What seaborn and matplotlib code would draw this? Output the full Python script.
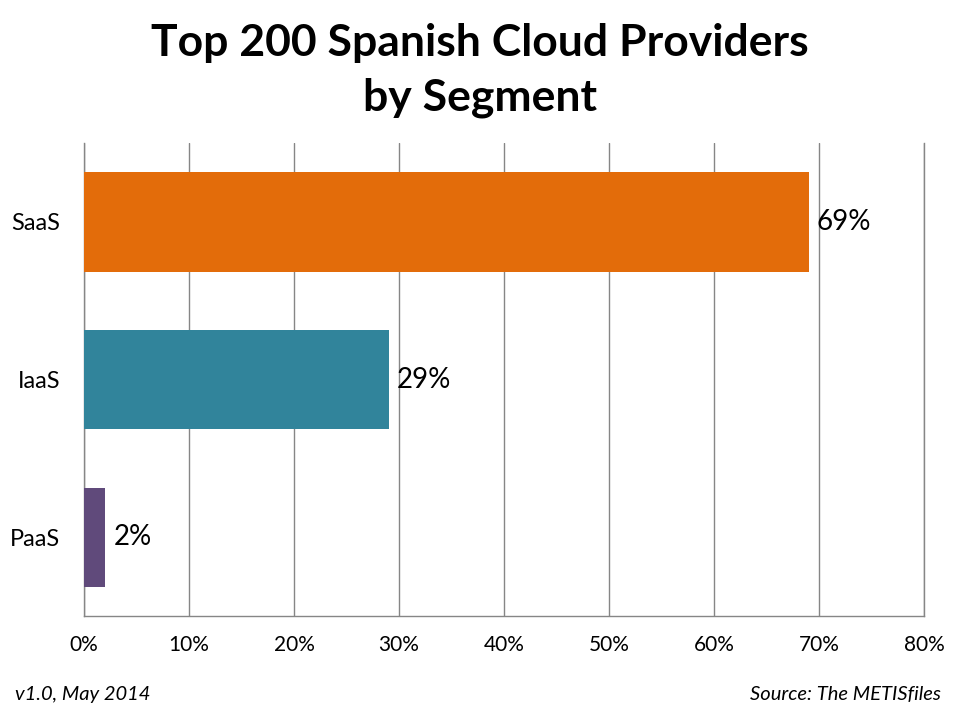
from matplotlib import pyplot as plt
import pandas as pd
import seaborn as sns

segments = ['SaaS', 'IaaS', 'PaaS']
shares = [69, 29, 2]
bar_colors = ['#E36C0A', '#31849B', '#604A7B']
x_ticks = [0, 10, 20, 30, 40, 50, 60, 70, 80]

df = pd.DataFrame({'Segment': segments, 'Share': shares})

sns.set_style("white")
plt.rcParams['font.family'] = ['Lato', 'DejaVu Sans']
plt.rcParams['text.color'] = 'black'
plt.rcParams['xtick.color'] = 'black'
plt.rcParams['ytick.color'] = 'black'

fig = plt.figure(figsize=(9.6, 7.2), dpi=100)
ax = fig.add_axes([0.0875, 0.1444, 0.875, 0.657])

sns.barplot(data=df, x='Share', y='Segment', hue='Segment', palette=bar_colors,
            orient='h', width=0.63, saturation=1, linewidth=0, legend=False,
            ax=ax, zorder=3)

ax.set_xlim(0, 80)
ax.set_xticks(x_ticks)
ax.set_xticklabels([f'{t}%' for t in x_ticks], fontsize=15)
ax.tick_params(axis='x', pad=14, length=0)
ax.tick_params(axis='y', pad=17, length=0, labelsize=17)
ax.xaxis.grid(True, color='#868686', linewidth=1)
ax.set_axisbelow(True)
ax.set_xlabel('')
ax.set_ylabel('')
for side in ['left', 'bottom', 'right']:
    ax.spines[side].set_color('#868686')
    ax.spines[side].set_linewidth(1)
ax.spines['top'].set_visible(False)

for i, v in enumerate(shares):
    ax.text(v + 0.8, i, f'{v}%', va='center', ha='left', fontsize=20)

fig.text(0.5, 0.968, 'Top 200 Spanish Cloud Providers\nby Segment', ha='center', va='top',
         fontsize=32, fontweight='bold', linespacing=1.45)
fig.text(0.016, 0.036, 'v1.0, May 2014', ha='left', va='center', fontsize=14.5, style='italic')
fig.text(0.98, 0.036, 'Source: The METISfiles', ha='right', va='center', fontsize=14.5, style='italic')

fig.savefig('out.png', dpi=100)
